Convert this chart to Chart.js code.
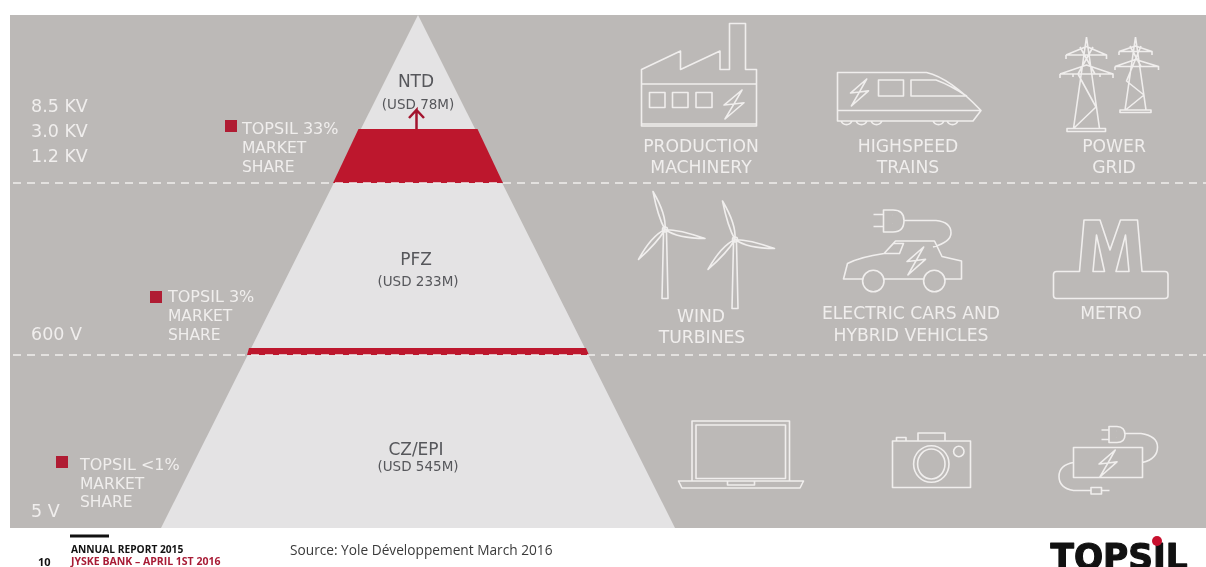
<!DOCTYPE html>
<html>
<head>
<meta charset="utf-8">
<title>Topsil market pyramid</title>
<script src="https://cdn.jsdelivr.net/npm/chart.js@4/dist/chart.umd.min.js"></script>
<style>
    html, body { margin: 0; padding: 0; background: #fff; }
    canvas { display: block; }
</style>
</head>
<body>
<canvas id="pyramid" width="1206" height="567"></canvas>
<script>
// chart values: x runs from the pyramid axis, y is height above the pyramid base
var segments = ['NTD', 'PFZ', 'CZ/EPI'];
var segmentUsd = [78, 233, 545];
var topsilShare = ['33%', '3%', '<1%'];

var voltageTicks = [421, 396, 371, 193, 16];
var voltageLabels = ['8.5 KV', '3.0 KV', '1.2 KV', '600 V', '5 V'];
var boundaries = [345, 173];

var pyramidX = [-257, 0, 257];
var pyramidY = [0, 513, 0];
var ntdShareX = [-85, -59.5, 59.5, 85];
var ntdShareY = [345, 399, 399, 345];
var pfzShareX = [-171, -169, 168, 171];
var pfzShareY = [173, 180, 180, 173];
var markerX = [-187, -262, -356];
var markerY = [402, 231, 66];
var arrowX = [-1.5, -1.5, -9, -1.5, 6, -1.5];
var arrowY = [399, 418, 410, 418, 410, 418];

var applications = [
    ['PRODUCTION', 283, 382], ['MACHINERY', 283, 361],
    ['HIGHSPEED', 490, 382], ['TRAINS', 490, 361],
    ['POWER', 696, 382], ['GRID', 696, 361],
    ['WIND', 283, 212], ['TURBINES', 284, 191],
    ['ELECTRIC CARS AND', 493, 215], ['HYBRID VEHICLES', 493, 193],
    ['METRO', 693, 215]
];

function points(xs, ys) {
    return xs.map(function (x, i) { return { x: x, y: ys[i] }; });
}

function bolt(x, y, w, h) {
    var p = [[0.9, 0], [0, 0.52], [0.5, 0.48], [0.05, 1], [1, 0.44], [0.5, 0.48]];
    return 'M' + p.map(function (q) { return (x + q[0] * w) + ' ' + (y + q[1] * h); }).join('L') + 'Z';
}

function blade(hx, hy, tx, ty) {
    var dx = tx - hx, dy = ty - hy, len = Math.sqrt(dx * dx + dy * dy);
    var nx = -dy / len, ny = dx / len;
    var mx = hx + dx * 0.35, my = hy + dy * 0.35;
    return 'M' + hx + ' ' + hy + 'Q' + (mx + nx * 6) + ' ' + (my + ny * 6) + ' ' + tx + ' ' + ty +
        'Q' + (mx - nx * 3) + ' ' + (my - ny * 3) + ' ' + hx + ' ' + hy;
}

function turbine(hx, hy, baseY, up, right, left) {
    return blade(hx, hy, up[0], up[1]) + blade(hx, hy, right[0], right[1]) + blade(hx, hy, left[0], left[1]) +
        'M' + (hx + 2.5) + ' ' + hy + 'A2.5 2.5 0 1 0 ' + (hx - 2.5) + ' ' + hy + 'A2.5 2.5 0 1 0 ' + (hx + 2.5) + ' ' + hy +
        'M' + (hx - 1.5) + ' ' + (hy + 3) + 'L' + (hx - 3) + ' ' + baseY + 'H' + (hx + 3) + 'L' + (hx + 1.5) + ' ' + (hy + 3);
}

// line icons, outlined in picture pixels
var iconPaths = [
    // factory
    'M641.5 126V69.5L680.5 51V69.5L720 51V69.5H729.5V23.5H745.5V69.5H756.5V126ZM641.5 124H756.5M641.5 84H756.5' +
    'M649.5 92.5H665V107.5H649.5ZM672.5 92.5H688V107.5H672.5ZM696 92.5H712V107.5H696Z' + bolt(724, 90, 20, 29),
    // train
    'M837.5 72.5H926.5Q950 78 981 110.5L973 121H837.5ZM837.5 110.5H981M878.5 80H903.5V96H878.5Z' +
    'M911 80H936Q950 85 966.5 96H911Z' + bolt(850.5, 79, 18, 27) +
    'M841 121A6 6 0 0 0 852 121M856 121A6 6 0 0 0 867 121M871 121A6 6 0 0 0 882 121M933 121A6 6 0 0 0 944 121M947 121A6 6 0 0 0 958 121',
    // power grid, big tower
    'M1086.5 37L1073.5 128.5M1086.5 37L1099.5 128.5M1067 128.5H1105.5V131.5H1067Z' +
    'M1066 55L1086.5 46.5L1106.5 55V59M1066 55V59M1066 55H1106.5M1060 74L1086.5 65L1113 74V78M1060 74V78M1060 74H1113' +
    'M1073 74V77M1100 74V77M1080 47L1095 74M1093 47L1078 74L1096 107L1073.5 128.5',
    // power grid, small tower
    'M1135.5 37L1125 110M1135.5 37L1146 110M1120 110H1151V112.5H1120Z' +
    'M1119 51.5L1135.5 46L1152 51.5V55M1119 51.5V55M1119 51.5H1152M1115 66.5L1135.5 59.5L1158.5 66.5V70M1115 66.5V70M1115 66.5H1158.5' +
    'M1130 46L1141 66.5M1141 46L1126.5 81L1144 95L1125.5 110',
    // wind turbines
    turbine(665, 229.5, 298.5, [653, 191.5], [705, 238.5], [638.5, 259.5]),
    turbine(735, 239.5, 308.5, [722.5, 201], [774.5, 248.5], [708, 269.5]),
    // electric car
    'M873.5 214.5H883.5M873.5 226.5H883.5M883.5 210H893Q904 210 904 220.5Q904 232 893 232H883.5Z' +
    'M904 220.5H936Q951 222 951 233Q951 242 933 247' +
    'M862.5 279H843.5L847.5 263.5Q860 257 884 253.5L895.5 241H934.5L942 256.5L961.5 261V279H945' +
    'M884 279H923.5M884 253.5L893.5 243.5H903.5L899.5 253.5Z' +
    'M884 281A10.7 10.7 0 1 1 862.6 281A10.7 10.7 0 1 1 884 281M945 281A10.7 10.7 0 1 1 923.6 281A10.7 10.7 0 1 1 945 281' +
    'M892.5 215h.1M892.5 223.5h.1' + bolt(907, 247, 18.5, 28),
    // metro
    'M1079.5 271.5L1084 220H1100L1110 250L1120.5 220H1137.5L1142 271.5H1165Q1168 271.5 1168 274.5V295.5Q1168 298.5 1165 298.5H1056.5Q1053.5 298.5 1053.5 295.5V274.5Q1053.5 271.5 1056.5 271.5Z' +
    'M1096.5 235L1093 271.5H1104.5ZM1125.5 235L1116 271.5H1129Z',
    // laptop
    'M692 481V421H789.5V481M696 478.5V425H785.5V478.5ZM678.5 481H803.5L800 488H682ZM727.5 481V485H754.5V481',
    // camera
    'M892.5 441H970.5V487.5H892.5ZM918 441V433H945V441M896.5 441V437.5H906V441' +
    'M949 464A17.7 18.3 0 1 1 913.6 464A17.7 18.3 0 1 1 949 464M945 464A13.7 15 0 1 1 917.6 464A13.7 15 0 1 1 945 464' +
    'M964 451.5A5.2 5.2 0 1 1 953.6 451.5A5.2 5.2 0 1 1 964 451.5',
    // battery charger
    'M1073.5 447.5H1142.5V477.5H1073.5ZM1101.5 430H1109M1101.5 439.5H1109M1109 426.5H1117Q1125 427 1125 434.5Q1125 442.5 1117 442.5H1109Z' +
    'M1125 433.5H1141Q1157.5 436 1157.5 447Q1157.5 459 1142.5 462.5M1073.5 462.5Q1059 465 1059 476.5Q1059 488 1073.5 490.5H1091' +
    'M1091 487.5H1101.5V494H1091ZM1101.5 490.5H1109.5M1116 431h.1M1116 437.5h.1' + bolt(1099, 450, 18, 27)
];

var white = '#f0eeed';
var slate = '#56575b';

var overlay = {
    id: 'overlay',
    afterDatasetsDraw: function (chart) {
        var ctx = chart.ctx;
        var xs = chart.scales.x, ys = chart.scales.y;

        function text(str, x, y, font, color, align) {
            ctx.font = font;
            ctx.fillStyle = color;
            ctx.textAlign = align || 'center';
            ctx.textBaseline = 'middle';
            ctx.fillText(str, xs.getPixelForValue(x), ys.getPixelForValue(y) + 1.5);
        }

        ctx.save();
        ctx.strokeStyle = white;
        ctx.lineWidth = 1.6;
        ctx.lineJoin = 'round';
        iconPaths.forEach(function (d) { ctx.stroke(new Path2D(d)); });

        var slide = 'DejaVu Sans';
        var segY = [[447, 424], [269, 247], [79, 62]];
        segments.forEach(function (name, i) {
            text(name, -2, segY[i][0], '17px "' + slide + '"', slate);
            text('(USD ' + segmentUsd[i] + 'M)', 0, segY[i][1], '13.5px "' + slide + '"', slate);
        });

        var shareX = [-176, -250, -338];
        var shareY = [[400, 381, 362], [232, 212.5, 194], [64, 45, 26.5]];
        topsilShare.forEach(function (share, i) {
            var font = '15.5px "' + slide + '"';
            text('TOPSIL ' + share, shareX[i], shareY[i][0], '16px "' + slide + '"', white, 'left');
            text('MARKET', shareX[i], shareY[i][1], font, white, 'left');
            text('SHARE', shareX[i], shareY[i][2], font, white, 'left');
        });

        applications.forEach(function (a) {
            text(a[0], a[1], a[2], '17.2px "' + slide + '"', white);
        });

        // footer
        text('ANNUAL REPORT 2015', -347, -21, 'bold 10.2px "Open Sans"', '#111', 'left');
        text('JYSKE BANK \u2013 APRIL 1ST 2016', -347, -32.5, 'bold 10.5px "Open Sans"', '#a81c36', 'left');
        text('10', -380, -33, 'bold 11px "Open Sans"', '#111', 'left');
        text('Source: Yole D\u00e9veloppement March 2016', -128, -22, '13.7px "Open Sans"', '#3a3a3a', 'left');

        // logo wordmark, squeezed to the logo width
        ctx.font = 'bold 36px "DejaVu Sans"';
        ctx.fillStyle = '#111';
        ctx.strokeStyle = '#111';
        ctx.lineWidth = 1.2;
        ctx.textAlign = 'center';
        ctx.textBaseline = 'alphabetic';
        ctx.fillText('TOPSIL', xs.getPixelForValue(701), ys.getPixelForValue(-41), 137);
        ctx.strokeText('TOPSIL', xs.getPixelForValue(701), ys.getPixelForValue(-41), 137);

        // red dot of the logo
        ctx.fillStyle = '#c8102e';
        ctx.beginPath();
        ctx.arc(xs.getPixelForValue(739), ys.getPixelForValue(-13), 5, 0, Math.PI * 2);
        ctx.fill();
        ctx.restore();
    }
};

function area(xs, ys, color, base) {
    return {
        data: points(xs, ys), showLine: true, pointRadius: 0, borderWidth: 0,
        backgroundColor: color, fill: { value: base }, tension: 0
    };
}

function rule(xs, ys, color, width, dash) {
    return {
        data: points(xs, ys), showLine: true, pointRadius: 0, fill: false,
        borderColor: color, borderWidth: width, borderDash: dash || []
    };
}

new Chart(document.getElementById('pyramid'), {
    type: 'scatter',
    data: {
        datasets: [
            rule([-348, -309], [-8, -8], '#111', 3),
            rule([-405, 788], [boundaries[0], boundaries[0]], white, 1.5, [8, 6]),
            rule([-405, 788], [boundaries[1], boundaries[1]], white, 1.5, [8, 6]),
            {
                data: points(markerX, markerY), pointStyle: 'rect', pointRadius: 8.5,
                backgroundColor: '#b01c33', borderWidth: 0
            },
            rule(arrowX, arrowY, '#a3142e', 2.5),
            area(ntdShareX, ntdShareY, '#bd172d', 345),
            area(pfzShareX, pfzShareY, '#bd172d', 173),
            area(pyramidX, pyramidY, '#e4e3e4', 0),
            area([-408, 788], [513, 513], '#bcb9b7', 0)
        ]
    },
    options: {
        responsive: false,
        animation: false,
        layout: { padding: 0, autoPadding: false },
        plugins: { legend: { display: false }, tooltip: { enabled: false } },
        scales: {
            x: { type: 'linear', display: false, min: -418, max: 788 },
            y: {
                type: 'linear', min: -39, max: 528,
                border: { display: false },
                grid: { display: false, drawTicks: false },
                afterBuildTicks: function (axis) {
                    axis.ticks = voltageTicks.map(function (v) { return { value: v }; });
                },
                afterFit: function (axis) {
                    axis.width = 0;
                    axis.paddingTop = 0;
                    axis.paddingBottom = 0;
                },
                ticks: {
                    z: 1,
                    mirror: true,
                    padding: 31,
                    autoSkip: false,
                    color: white,
                    font: { family: 'DejaVu Sans', size: 17.5 },
                    callback: function (v) { return voltageLabels[voltageTicks.indexOf(v)]; }
                }
            }
        }
    },
    plugins: [overlay]
});
</script>
</body>
</html>
